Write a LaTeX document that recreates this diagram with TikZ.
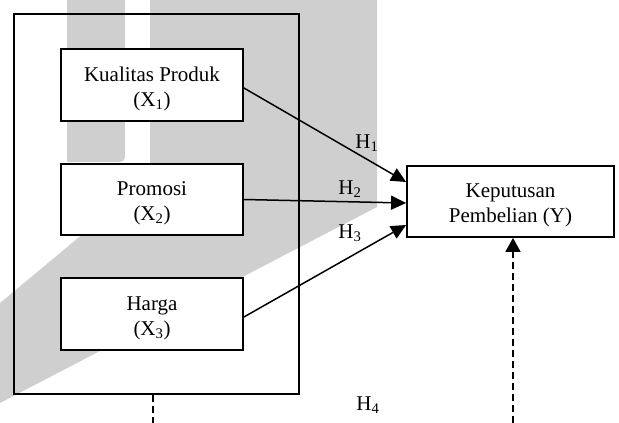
\documentclass[tikz,border=0pt]{standalone}
\usepackage{fontspec}
\setmainfont{Liberation Serif}
\usetikzlibrary{arrows.meta}
\definecolor{wm}{RGB}{207,207,207}
\newcommand{\boxtext}[1]{\raisebox{-3.5pt}[\height][\depth]{\begin{tabular}{@{}c@{}}#1\end{tabular}}}
\tikzset{
  varbox/.style={draw, line width=1.8pt, fill=white,
    font=\fontsize{21}{25}\selectfont, inner sep=0pt},
  hlabel/.style={font=\fontsize{21}{25}\selectfont, inner sep=0pt},
  effect/.style={line width=1.5pt, -{Triangle[length=15pt,width=14pt]}},
  dashline/.style={line width=1.5pt, dash pattern=on 7pt off 4pt},
}
\begin{document}
\begin{tikzpicture}[x=1pt,y=-1pt]
\useasboundingbox (0,0) rectangle (619,423);
% watermark background
\fill[wm] (67,0) -- (67,162) [rounded corners=5pt] -- (125,162) [sharp corners] -- (125,0) -- cycle;
\fill[wm] (150,0) -- (377,0) -- (377,207) -- (0,403) -- (0,303) -- (150,178) -- cycle;
% outer frame
\node[draw, line width=1.8pt, minimum width=285pt, minimum height=380pt, inner sep=0pt] (outer) at (156.5,204) {};
% variable boxes
\node[varbox, minimum width=182pt, minimum height=72pt] (b1) at (152,85) {\boxtext{Kualitas Produk\\(X\textsubscript{1})}};
\node[varbox, minimum width=182pt, minimum height=71pt] (b2) at (152,199.5) {\boxtext{Promosi\\(X\textsubscript{2})}};
\node[varbox, minimum width=182pt, minimum height=72pt] (b3) at (152,314) {\boxtext{Harga\\(X\textsubscript{3})}};
\node[varbox, minimum width=207pt, minimum height=71pt] (y) at (510.5,201.5) {\boxtext{Keputusan\\Pembelian (Y)}};
% hypothesis labels
\node[hlabel] (h1) at (367,143) {H\textsubscript{1}};
\node[hlabel] (h2) at (350,189) {H\textsubscript{2}};
\node[hlabel] (h3) at (350,233) {H\textsubscript{3}};
\node[hlabel] (h4) at (368,405) {H\textsubscript{4}};
% arrows
\draw[effect] ([yshift=-3pt]b1.east) -- ([yshift=19.5pt]y.west);
\draw[effect] (b2.east) -- ([yshift=-1.5pt]y.west);
\draw[effect] ([yshift=-3pt]b3.east) -- ([yshift=-23.5pt]y.west);
% dashed simultaneous path
\coordinate (d1) at (153,423);
\coordinate (d2) at (513,423);
\draw[dashline] ([xshift=-3.5pt]outer.south) -- (d1);
\draw[dashline, -{Triangle[length=14pt,width=15pt]}] (d2) -- ([xshift=2.5pt]y.south);
\end{tikzpicture}
\end{document}
